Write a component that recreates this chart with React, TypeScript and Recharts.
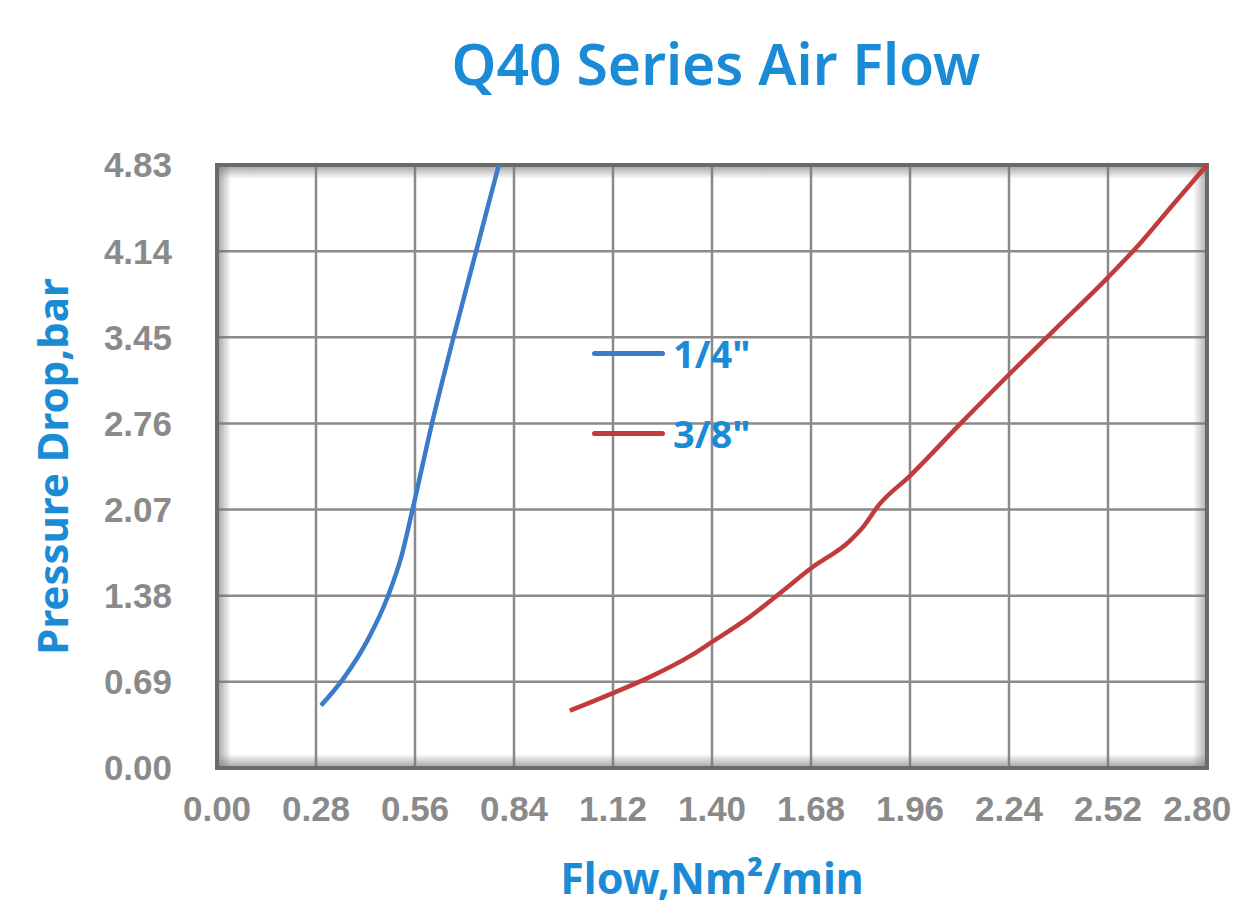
import React from 'react';
import { LineChart, Line, XAxis, YAxis, CartesianGrid, ReferenceArea } from 'recharts';

const xTicks = [0, 0.28, 0.56, 0.84, 1.12, 1.4, 1.68, 1.96, 2.24, 2.52, 2.8];
const yTicks = [0, 0.69, 1.38, 2.07, 2.76, 3.45, 4.14, 4.83];

const quarterFlow = [0.294, 0.361, 0.427, 0.484, 0.522, 0.553, 0.608, 0.669, 0.733, 0.797];
const quarterDrop = [0.5, 0.73, 1.03, 1.38, 1.7, 2.07, 2.76, 3.45, 4.14, 4.83];

const eighthFlow = [0.998, 1.12, 1.225, 1.34, 1.4, 1.507, 1.592, 1.68, 1.79, 1.83, 1.87, 1.96, 2.1, 2.243, 2.365, 2.52, 2.61, 2.7, 2.8];
const eighthDrop = [0.46, 0.6, 0.73, 0.9, 1.01, 1.21, 1.4, 1.6, 1.82, 1.94, 2.1, 2.34, 2.75, 3.16, 3.5, 3.93, 4.2, 4.5, 4.83];

const seriesNames = ['1/4"', '3/8"'];
const seriesColors = ['#3b7cc9', '#c23b3b'];

const quarterData = quarterFlow.map((x, i) => ({ x, y: quarterDrop[i] }));
const eighthData = eighthFlow.map((x, i) => ({ x, y: eighthDrop[i] }));

const BLUE = '#1b8bd6';

const Frame = (props: any) => {
  const { x, y, width, height } = props;
  const s = 14;
  return (
    <g>
      <defs>
        <linearGradient id="gTop" x1="0" y1="0" x2="0" y2="1">
          <stop offset="0%" stopColor="#777" stopOpacity={0.7} />
          <stop offset="100%" stopColor="#777" stopOpacity={0} />
        </linearGradient>
        <linearGradient id="gBottom" x1="0" y1="1" x2="0" y2="0">
          <stop offset="0%" stopColor="#777" stopOpacity={0.7} />
          <stop offset="100%" stopColor="#777" stopOpacity={0} />
        </linearGradient>
        <linearGradient id="gLeft" x1="0" y1="0" x2="1" y2="0">
          <stop offset="0%" stopColor="#777" stopOpacity={0.7} />
          <stop offset="100%" stopColor="#777" stopOpacity={0} />
        </linearGradient>
        <linearGradient id="gRight" x1="1" y1="0" x2="0" y2="0">
          <stop offset="0%" stopColor="#777" stopOpacity={0.6} />
          <stop offset="100%" stopColor="#777" stopOpacity={0} />
        </linearGradient>
      </defs>
      <rect x={x} y={y} width={width} height={s} fill="url(#gTop)" />
      <rect x={x} y={y + height - s} width={width} height={s} fill="url(#gBottom)" />
      <rect x={x} y={y} width={s} height={height} fill="url(#gLeft)" />
      <rect x={x + width - s} y={y} width={s} height={height} fill="url(#gRight)" />
      <rect x={x} y={y} width={width} height={height} fill="none" stroke="#6a6a6a" strokeWidth={4} />
    </g>
  );
};

const tickFont = { fill: '#8a8a8a', fontSize: 35, fontWeight: 700, fontFamily: '"Liberation Sans", Arial, sans-serif' };

const XTick = (props: any) => {
  const { x, y, payload } = props;
  const label = Number(payload.value).toFixed(2);
  const half = (label.length * 0.5) * tickFont.fontSize * 0.54;
  const cx = Math.min(x, 1235 - half);
  return (
    <text x={cx} y={y} dy="0.71em" textAnchor="middle" {...tickFont}>
      {label}
    </text>
  );
};

export default function App() {
  return (
    <div style={{ position: 'absolute', left: 0, top: 0, width: 1237, height: 906, background: '#fff' }}>
      <div
        style={{
          position: 'absolute',
          left: 0,
          top: 28,
          width: 1237,
          paddingLeft: 195,
          boxSizing: 'border-box',
          textAlign: 'center',
          fontFamily: '"Noto Sans", sans-serif',
          fontWeight: 600,
          fontSize: 57,
          color: BLUE,
          lineHeight: '70px',
        }}
      >
        Q40 Series Air Flow
      </div>
      <LineChart width={1237} height={906} margin={{ top: 165, right: 30, bottom: 0, left: 0 }}>
        <CartesianGrid stroke="#8a8a8a" strokeWidth={2.5} horizontalValues={yTicks} verticalValues={xTicks} />
        <XAxis
          type="number"
          dataKey="x"
          domain={[0, 2.8]}
          ticks={xTicks}
          axisLine={false}
          tickLine={false}
          tick={<XTick />}
          tickMargin={22}
          height={138}
          label={{
            value: 'Flow,Nm²/min',
            position: 'insideBottom',
            offset: 12,
            fill: BLUE,
            fontSize: 43,
            fontWeight: 700,
            fontFamily: '"Noto Sans", sans-serif',
          }}
        />
        <YAxis
          type="number"
          domain={[0, 4.83]}
          ticks={yTicks}
          tickFormatter={(v: number) => v.toFixed(2)}
          axisLine={false}
          tickLine={false}
          tick={tickFont}
          tickMargin={39}
          width={217}
          label={{
            value: 'Pressure Drop,bar',
            angle: -90,
            position: 'insideLeft',
            offset: 53,
            style: { textAnchor: 'middle' },
            fill: BLUE,
            fontSize: 42,
            fontWeight: 700,
            fontFamily: '"Noto Sans", sans-serif',
          }}
        />
        <ReferenceArea x1={0} x2={2.8} y1={0} y2={4.83} shape={<Frame />} ifOverflow="visible" />
        <Line
          data={quarterData}
          dataKey="y"
          name={seriesNames[0]}
          type="monotone"
          stroke={seriesColors[0]}
          strokeWidth={4.5}
          dot={false}
          isAnimationActive={false}
        />
        <Line
          data={eighthData}
          dataKey="y"
          name={seriesNames[1]}
          type="monotone"
          stroke={seriesColors[1]}
          strokeWidth={4.5}
          dot={false}
          isAnimationActive={false}
        />
      </LineChart>
      <div
        style={{
          position: 'absolute',
          left: 592,
          top: 313,
          fontFamily: '"Noto Sans", sans-serif',
          fontWeight: 700,
          fontSize: 38,
          color: BLUE,
        }}
      >
        {seriesNames.map((n, i) => (
          <div key={n} style={{ display: 'flex', alignItems: 'center', height: 80 }}>
            <div style={{ width: 73, height: 5, background: seriesColors[i], marginRight: 8, borderRadius: 3 }} />
            <span>{n}</span>
          </div>
        ))}
      </div>
    </div>
  );
}
